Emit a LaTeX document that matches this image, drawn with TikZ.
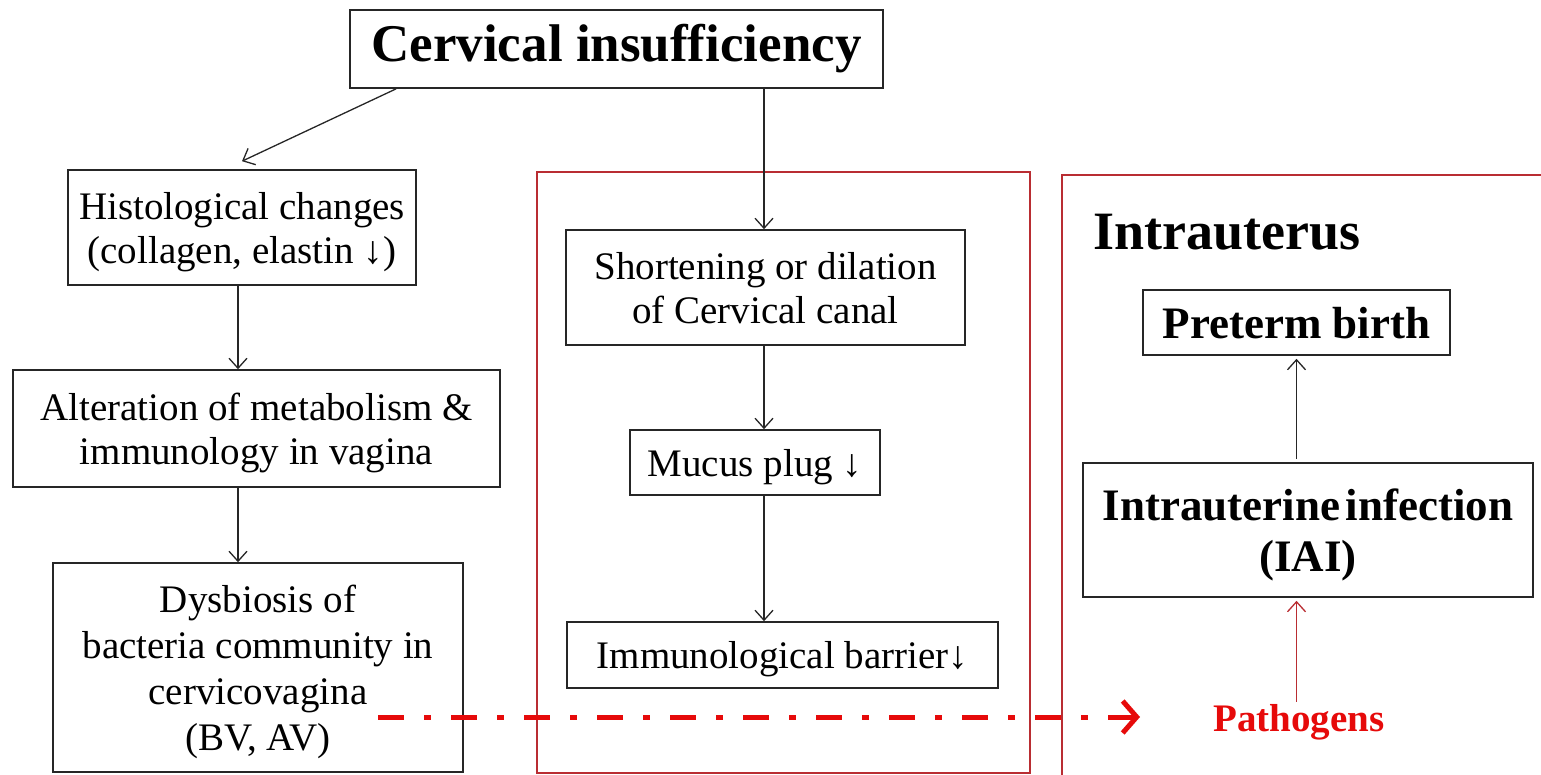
\documentclass[tikz,border=0pt]{standalone}
\usepackage{fontspec}
\setmainfont{Liberation Serif}
\usetikzlibrary{arrows.meta,calc}
\definecolor{boxred}{RGB}{185,45,50}
\definecolor{brightred}{RGB}{230,10,10}
\begin{document}
\begin{tikzpicture}[x=1pt,y=-1pt,
  box/.style={draw=black!85,line width=1.6pt,align=center,inner sep=0pt,text depth=0pt,font=\fontsize{39}{44}\selectfont},
  bbox/.style={box,font=\bfseries\fontsize{45}{51}\selectfont},
  arr/.style={line width=1.3pt,black!85,-{Straight Barb[length=10pt,width=18pt]}},
  redframe/.style={draw=boxred,line width=1.8pt},
  ]
\useasboundingbox (0,0) rectangle (1541,775);
% red frames
\draw[redframe] (537,172) rectangle (1030,773);
\draw[redframe] (1062,175) rectangle (1580,800);
% nodes
\node[box,text depth=,font=\bfseries\fontsize{53}{58}\selectfont,minimum width=533pt,minimum height=78pt] (title) at (616.5,49) {Cervical insufficiency};
\node[box,minimum width=348pt,minimum height=115pt] (hist) at (242,227.5) {Histological changes\\(collagen, elastin ↓)};
\node[box,minimum width=487pt,minimum height=117pt] (alt) at (256.5,428.5) {Alteration of metabolism \&\\immunology in vagina};
\node[box,font=\fontsize{39}{46}\selectfont,minimum width=410pt,minimum height=209pt] (dys) at (258,667.5) {Dysbiosis of\\bacteria community in\\cervicovagina\\(BV, AV)};
\node[box,minimum width=399pt,minimum height=115pt] (short) at (765.5,287.5) {Shortening or dilation\\of Cervical canal};
\node[box,minimum width=250pt,minimum height=65pt] (mucus) at (755,462.5) {Mucus plug ↓};
\node[box,minimum width=431pt,minimum height=66pt] (immuno) at (782.5,655) {Immunological barrier↓};
\node[anchor=west,inner sep=0pt,font=\bfseries\fontsize{54}{60}\selectfont] (intra) at (1093,232) {Intrauterus};
\node[bbox,minimum width=307pt,minimum height=65pt] (preterm) at (1296.5,322.5) {Preterm birth};
\node[bbox,minimum width=450pt,minimum height=134pt] (iai) at (1308,530) {Intrauterine\hspace{0.12em}infection\\(IAI)};
\node[inner sep=0pt,text=brightred,font=\bfseries\fontsize{39}{44}\selectfont] (path) at (1299,722) {Pathogens};
% connectors
\draw[arr] ([xshift=47pt]title.south west) -- ([yshift=8pt]hist.north);
\draw[arr] (title.south -| 764,0) -- (short.north -| 764,0);
\draw[arr] (hist.south -| 238,0) -- (alt.north -| 238,0);
\draw[arr] (alt.south -| 238,0) -- (dys.north -| 238,0);
\draw[arr] (short.south -| 764,0) -- (mucus.north -| 764,0);
\draw[arr] (mucus.south -| 764,0) -- (immuno.north -| 764,0);
\draw[arr,shorten <=3pt,shorten >=3pt] (iai.north -| preterm.south) -- (preterm.south);
\draw[arr,boxred,shorten >=3pt] ([yshift=2pt]path.north -| preterm.south) -- (preterm.south |- iai.south);
% dash-dot arrow
\coordinate (dstart) at (378,717);
\coordinate (dend) at (1140,717);
\draw[brightred,line width=5pt,dash pattern=on 26pt off 20pt on 7pt off 20pt,
  -{Straight Barb[length=14pt,width=32pt]}] (dstart) -- (dend);
\end{tikzpicture}
\end{document}
